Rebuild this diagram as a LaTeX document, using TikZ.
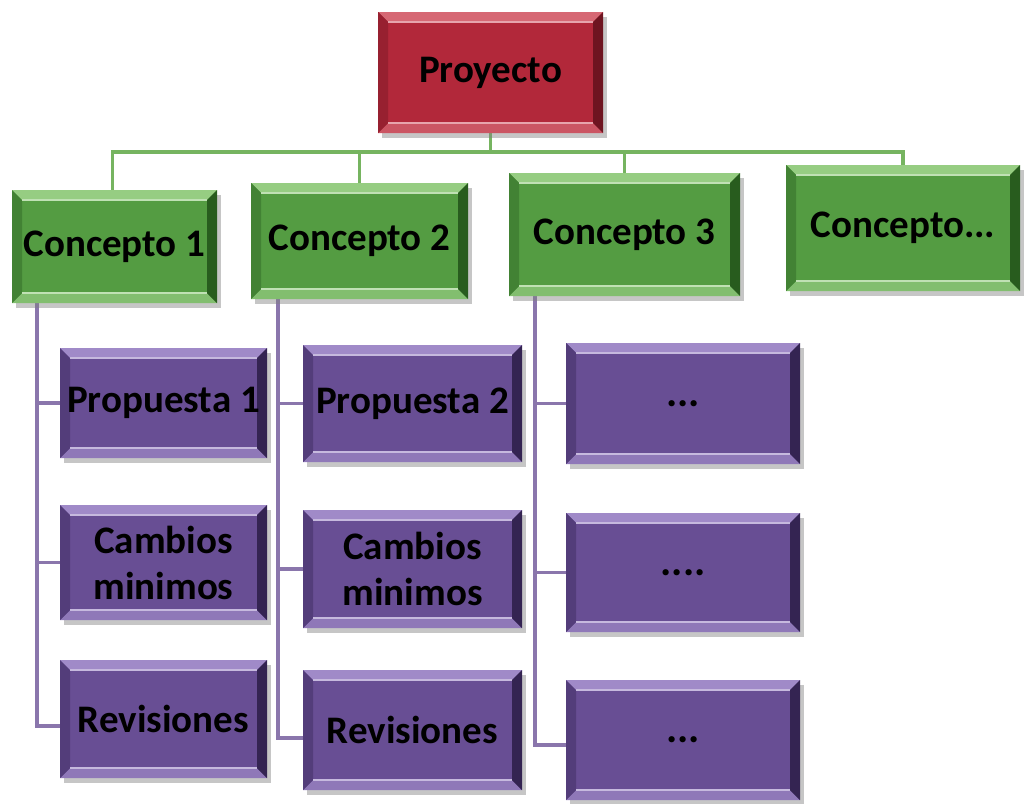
\documentclass[tikz,border=0pt]{standalone}
\usepackage{fontspec}
\setmainfont{Carlito}
\usetikzlibrary{shadows,backgrounds,calc}
\definecolor{rdB}{RGB}{178,40,58}
\definecolor{rdL}{RGB}{214,104,116}
\definecolor{rdD}{RGB}{110,20,32}
\definecolor{gnB}{RGB}{84,156,66}
\definecolor{gnL}{RGB}{150,205,130}
\definecolor{gnD}{RGB}{40,92,30}
\definecolor{puB}{RGB}{104,78,148}
\definecolor{puL}{RGB}{160,138,200}
\definecolor{puD}{RGB}{52,36,82}
\definecolor{gnLine}{RGB}{118,180,96}
\definecolor{puLine}{RGB}{138,118,172}
\tikzset{
  bevelbox/.style={rectangle, fill=#1B, inner sep=0pt, align=center,
    font=\bfseries\fontsize{39}{46}\selectfont, text=black,
    drop shadow={shadow xshift=4pt,shadow yshift=-5pt,opacity=0.45},
    path picture={
      \fill[#1L] (path picture bounding box.north west) -- (path picture bounding box.north east)
        -- ([shift={(-10pt,-10pt)}]path picture bounding box.north east)
        -- ([shift={(10pt,-10pt)}]path picture bounding box.north west) -- cycle;
      \fill[#1L!70!#1B] (path picture bounding box.south west) -- (path picture bounding box.south east)
        -- ([shift={(-10pt,10pt)}]path picture bounding box.south east)
        -- ([shift={(10pt,10pt)}]path picture bounding box.south west) -- cycle;
      \fill[#1D!40!#1B] (path picture bounding box.north west) -- (path picture bounding box.south west)
        -- ([shift={(10pt,10pt)}]path picture bounding box.south west)
        -- ([shift={(10pt,-10pt)}]path picture bounding box.north west) -- cycle;
      \fill[#1D] (path picture bounding box.north east) -- (path picture bounding box.south east)
        -- ([shift={(-10pt,10pt)}]path picture bounding box.south east)
        -- ([shift={(-10pt,-10pt)}]path picture bounding box.north east) -- cycle;
      \draw[#1L!60!white, line width=1.5pt] ([shift={(10pt,-10pt)}]path picture bounding box.north west)
        -- ([shift={(-10pt,-10pt)}]path picture bounding box.north east);
      \draw[#1L!60!white, line width=1.5pt] ([shift={(10pt,10pt)}]path picture bounding box.south west)
        -- ([shift={(-10pt,10pt)}]path picture bounding box.south east);
    }},
  gline/.style={draw=gnLine, line width=3.5pt},
  pline/.style={draw=puLine, line width=3.5pt},
  dots/.style={font=\bfseries\fontsize{42}{42}\selectfont}
}
\begin{document}
\begin{tikzpicture}[x=1pt,y=-1pt]
\useasboundingbox (0,0) rectangle (1024,803);
% top
\node[bevelbox=rd, minimum width=225pt, minimum height=121pt] (proy) at (490.5,72.5) {Proyecto};
% concepts
\node[bevelbox=gn, minimum width=205pt, minimum height=113pt] (c1) at (114.5,246.5) {Concepto 1};
\node[bevelbox=gn, minimum width=217pt, minimum height=116pt] (c2) at (359.5,241) {Concepto 2};
\node[bevelbox=gn, minimum width=231pt, minimum height=123pt] (c3) at (624.5,234.5) {Concepto 3};
\node[bevelbox=gn, minimum width=234pt, minimum height=126pt] (c4) at (903,228) {Concepto...};
% column 1
\node[bevelbox=pu, minimum width=207pt, minimum height=110pt] (p1) at (163.5,403) {Propuesta 1};
\node[bevelbox=pu, minimum width=207pt, minimum height=115pt] (m1) at (163.5,562.5) {Cambios\\minimos};
\node[bevelbox=pu, minimum width=207pt, minimum height=118pt] (r1) at (163.5,719) {Revisiones};
% column 2
\node[bevelbox=pu, minimum width=219pt, minimum height=117pt] (p2) at (412.5,403.5) {Propuesta 2};
\node[bevelbox=pu, minimum width=219pt, minimum height=118pt] (m2) at (412.5,569) {Cambios\\minimos};
\node[bevelbox=pu, minimum width=219pt, minimum height=120pt] (r2) at (412.5,730) {Revisiones};
% column 3
\node[bevelbox=pu, dots, minimum width=234pt, minimum height=121pt] (d1) at (683,403.5) {...};
\node[bevelbox=pu, dots, minimum width=234pt, minimum height=119pt] (d2) at (683,572.5) {....};
\node[bevelbox=pu, dots, minimum width=234pt, minimum height=120pt] (d3) at (683,740) {...};
\coordinate (bus) at (490.5,152);
\begin{scope}[on background layer]
  \draw[gline] (proy.south) -- (bus);
  \draw[gline] ([xshift=-2pt]c1.north) |- (bus);
  \draw[gline] (c2.north) |- (bus);
  \draw[gline] (c3.north) |- (bus);
  \draw[gline] (c4.north) |- (bus);
  \draw[pline] ([xshift=25pt]c1.south west) |- (p1.west);
  \draw[pline] ([xshift=25pt]c1.south west) |- (m1.west);
  \draw[pline] ([xshift=25pt]c1.south west) |- ([yshift=-7pt]r1.west);
  \draw[pline] ([xshift=27pt]c2.south west) |- (p2.west);
  \draw[pline] ([xshift=27pt]c2.south west) |- (m2.west);
  \draw[pline] ([xshift=27pt]c2.south west) |- ([yshift=-8pt]r2.west);
  \draw[pline] ([xshift=26pt]c3.south west) |- (d1.west);
  \draw[pline] ([xshift=26pt]c3.south west) |- (d2.west);
  \draw[pline] ([xshift=26pt]c3.south west) |- ([yshift=-5pt]d3.west);
\end{scope}
\end{tikzpicture}
\end{document}
